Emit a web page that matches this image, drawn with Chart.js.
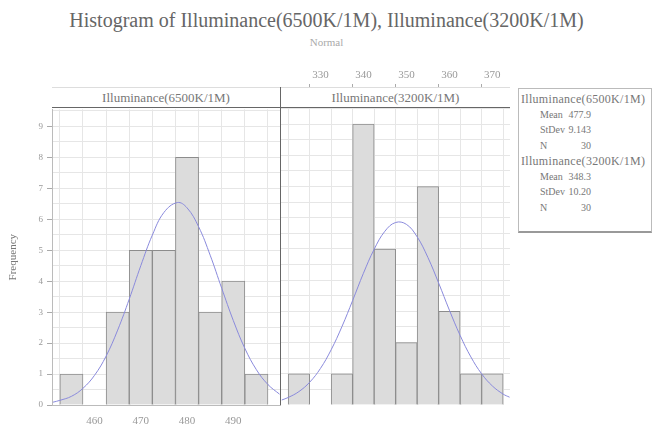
<!DOCTYPE html>
<html>
<head>
<meta charset="utf-8">
<script src="https://cdn.jsdelivr.net/npm/chart.js@4"></script>
<style>
  body { margin: 0; background: #fff; font-family: 'Liberation Serif', 'DejaVu Serif', serif; }
  #wrap { position: relative; width: 653px; height: 434px; overflow: hidden; }
  canvas { position: absolute; }
  .txt { position: absolute; white-space: nowrap; color: #666; }
  .strip { position: absolute; top: 87px; height: 19px; background: #fff; border-top: 1px solid #ddd;
           border-bottom: 1px solid #666; font-size: 13px; color: #777; text-align: center; line-height: 19px; z-index: 2; }
  #legend { position: absolute; left: 518px; top: 88px; width: 132px; height: 142px; border: 1px solid #bbb;
            border-bottom: 2px solid #999; font-size: 10px; color: #777; overflow: hidden; }
  #legend div { position: absolute; white-space: nowrap; }
  #legend .name { font-size: 12px; letter-spacing: 0.3px; }
</style>
</head>
<body>
<div id="wrap">
  <div class="txt" style="left:0;width:653px;text-align:center;top:9px;font-size:20px;color:#666">Histogram of Illuminance(6500K/1M), Illuminance(3200K/1M)</div>
  <div class="txt" style="left:0;width:653px;text-align:center;top:36px;font-size:11px;color:#aaa">Normal</div>

  <canvas id="left" width="283" height="334" style="left:0;top:100px"></canvas>
  <canvas id="right" width="232" height="345" style="left:279px;top:60px"></canvas>

  <div class="strip" style="left:52px;width:228px">Illuminance(6500K/1M)</div>
  <div class="strip" style="left:281px;width:229px">Illuminance(3200K/1M)</div>
  <div style="position:absolute;left:280px;top:87px;width:1px;height:318px;background:#666;z-index:3"></div>

  <div id="legend"></div>
</div>
<script>
// histogram bins (midpoints) and counts
const leftMid = [455, 460, 465, 470, 475, 480, 485, 490, 495];
const leftFreq = [1, 0, 3, 5, 5, 8, 3, 4, 1];
const rightMid = [325, 330, 335, 340, 345, 350, 355, 360, 365, 370];
const rightFreq = [1, 0, 1, 9, 5, 2, 7, 3, 1, 1];

// fitted normal curves
const leftCurveX = [451, 452.5, 455, 457.5, 460, 462.5, 465, 467.5, 470, 472.5, 475, 477.9, 480, 482.5, 485, 487.5, 490, 492.5, 495, 497.5, 500];
const leftCurveY = [0.09, 0.15, 0.28, 0.54, 0.96, 1.58, 2.42, 3.42, 4.5, 5.49, 6.22, 6.54, 6.37, 5.76, 4.84, 3.77, 2.73, 1.83, 1.14, 0.66, 0.35];
const rightCurveX = [321, 322.5, 325, 327.5, 330, 332.5, 335, 337.5, 340, 342.5, 345, 347.5, 350, 352.5, 355, 357.5, 360, 362.5, 365, 367.5, 370, 372.5, 374];
const rightCurveY = [0.16, 0.24, 0.43, 0.73, 1.17, 1.77, 2.51, 3.35, 4.22, 4.99, 5.57, 5.85, 5.79, 5.39, 4.73, 3.91, 3.04, 2.23, 1.54, 1.0, 0.61, 0.35, 0.25];

const seriesNames = ['Illuminance(6500K/1M)', 'Illuminance(3200K/1M)'];
const means = ['477.9', '348.3'];
const stdevs = ['9.143', '10.20'];
const counts = ['30', '30'];

const BAR = '#dcdcdc';
const BAR_EDGE = '#8c8c8c';
const CURVE = '#8a8adc';
const GRID = '#e6e6e6';
const TICK_TXT = '#999';

Chart.defaults.font.family = "'Liberation Serif', serif";
Chart.defaults.color = TICK_TXT;

const pts = (xs, ys) => xs.map((x, i) => ({ x, y: ys[i] }));

function datasets(mid, freq, cx, cy) {
  return [
    {
      type: 'line',
      data: pts(cx, cy),
      borderColor: CURVE,
      borderWidth: 1,
      pointRadius: 0,
      tension: 0.4,
      order: 0,
    },
    {
      type: 'bar',
      data: pts(mid, freq),
      backgroundColor: BAR,
      borderColor: BAR_EDGE,
      borderWidth: 1,
      barPercentage: 1,
      categoryPercentage: 1,
      order: 1,
    },
  ];
}

const clear = 'rgba(0,0,0,0)';

// ── left panel ───────────────────────────────
new Chart(document.getElementById('left'), {
  data: { datasets: datasets(leftMid, leftFreq, leftCurveX, leftCurveY) },
  options: {
    responsive: false,
    animation: false,
    layout: { padding: { right: 3 } },
    plugins: { legend: { display: false }, tooltip: { enabled: false } },
    scales: {
      x: {
        type: 'linear',
        position: 'bottom',
        min: 450.8,
        max: 500.1,
        offset: false,
        ticks: {
          stepSize: 5,
          includeBounds: false,
          autoSkip: false,
          maxRotation: 0,
          font: { size: 11 },
          padding: 2,
          callback: (v) => (v % 10 === 0 && v < 500 ? v : ''),
        },
        grid: { color: GRID, tickLength: 8, tickColor: clear },
        border: { display: true, color: '#bbb' },
        afterFit: (s) => { s.height = 29; },
      },
      y: {
        min: 0,
        max: 9.55,
        ticks: {
          stepSize: 0.5,
          includeBounds: false,
          font: { size: 9 },
          padding: 4,
          callback: (v) => (Number.isInteger(v) ? v : ''),
        },
        grid: {
          color: GRID,
          tickLength: 5,
          tickColor: (c) => (c.tick && Number.isInteger(c.tick.value) ? '#aaa' : clear),
        },
        border: { display: true, color: '#bbb' },
        title: { display: true, text: 'Frequency', font: { size: 11 }, color: '#777', padding: { top: 7, bottom: 0 } },
        afterFit: (s) => { s.width = 52; },
      },
    },
  },
});

// ── right panel (chart area starts under the strip) ───────────
new Chart(document.getElementById('right'), {
  data: { datasets: datasets(rightMid, rightFreq, rightCurveX, rightCurveY) },
  options: {
    responsive: false,
    animation: false,
    layout: { padding: { right: 1 } },
    plugins: { legend: { display: false }, tooltip: { enabled: false } },
    scales: {
      x: {
        type: 'linear',
        position: 'top',
        min: 320.6,
        max: 374.1,
        offset: false,
        ticks: {
          stepSize: 5,
          includeBounds: false,
          autoSkip: false,
          maxRotation: 0,
          font: { size: 11 },
          padding: 2,
          callback: (v) => (v % 10 === 0 ? v : ''),
        },
        grid: {
          color: GRID,
          tickLength: 4,
          tickColor: (c) => (c.tick && c.tick.value % 10 === 0 ? '#aaa' : clear),
        },
        border: { display: false },
        afterFit: (s) => { s.height = 28; },
      },
      y: {
        min: 0,
        max: 10.16,
        ticks: { display: false, stepSize: 0.5 },
        grid: { color: GRID, drawTicks: false },
        border: { display: false },
        afterFit: (s) => { s.width = 1; },
      },
    },
  },
});

// ── legend box ───────────────────────────────
const legend = document.getElementById('legend');
seriesNames.forEach((name, i) => {
  const base = 4 + i * 62;
  legend.insertAdjacentHTML('beforeend', `<div class="name" style="left:2px;top:${base - 1}px">${name}</div>`);
  [['Mean', means[i]], ['StDev', stdevs[i]], ['N', counts[i]]].forEach((r, j) => {
    const top = base + (j + 1) * 15.5;
    legend.insertAdjacentHTML('beforeend', `<div style="left:21px;top:${top}px">${r[0]}</div>`);
    legend.insertAdjacentHTML('beforeend', `<div style="left:32px;width:40px;text-align:right;top:${top}px">${r[1]}</div>`);
  });
});
</script>
</body>
</html>
